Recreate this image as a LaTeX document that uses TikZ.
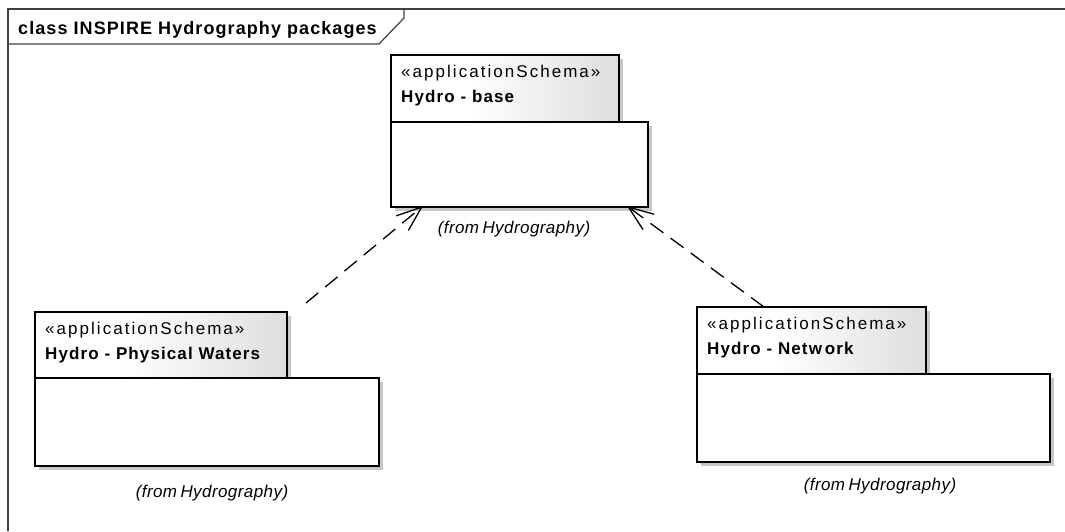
\documentclass[tikz,border=0pt]{standalone}
\usepackage{fontspec}
\setmainfont{Liberation Sans}
% EA-style wide tracking for the diagram texts
\newfontfamily\stereofont[LetterSpace=12]{Liberation Sans}
\newfontfamily\namefont[LetterSpace=6.5]{Liberation Sans}
\newfontfamily\titlefont[LetterSpace=6]{Liberation Sans}
\newfontfamily\fromfont[LetterSpace=2.5]{Liberation Sans}
\usetikzlibrary{arrows.meta,calc}

% package tab: white on the left, fading to light grey on the right
\pgfdeclarehorizontalshading{tabshade}{100bp}{%
  color(0bp)=(white); color(25bp)=(white); color(42bp)=(white);
  color(75bp)=(black!13); color(100bp)=(black!13)}

\tikzset{
  pkgtab/.style={draw=black, line width=1.4pt, shading=tabshade,
    anchor=north west, inner sep=0pt, outer sep=0pt},
  pkgbody/.style={draw=black, line width=1.4pt, fill=white,
    anchor=north west, inner sep=0pt, outer sep=0pt},
  pkgshadow/.style={fill=black!22},
  stereo/.style={anchor=base west, inner sep=0pt,
    font=\stereofont\fontsize{17pt}{19pt}\selectfont},
  pkgname/.style={anchor=base west, inner sep=0pt,
    font=\namefont\bfseries\fontsize{17pt}{19pt}\selectfont},
  fromlabel/.style={anchor=base, inner sep=0pt,
    font=\fromfont\itshape\fontsize{17pt}{19pt}\selectfont},
  frameline/.style={draw=black!75, line width=1.2pt},
  dependency/.style={draw=black, line width=1.3pt,
    dash pattern=on 16pt off 9pt,
    -{Straight Barb[length=25pt,width=19pt,line width=1.3pt]}},
}

% #1 name, #2 x, #3 y (top-left of tab), #4 tab width, #5 tab height,
% #6 body width, #7 body height, #8 package name
\newcommand\umlpkg[8]{%
  \fill[pkgshadow] (#2+4,#3+4) rectangle ++(#4,#5);
  \fill[pkgshadow] (#2+4,#3+#5+4) rectangle ++(#6,#7);
  \node[pkgbody, minimum width=#6pt, minimum height=#7pt] (#1-body) at (#2,#3+#5) {};
  \node[pkgtab, minimum width=#4pt, minimum height=#5pt] (#1-tab) at (#2,#3) {};
  \node[stereo] (#1-stereo) at (#2+10,#3+22) {«applicationSchema»};
  \node[pkgname] (#1-name) at (#2+10,#3+47) {#8};
}

\begin{document}
\begin{tikzpicture}[x=1pt, y=-1pt]
  \path[use as bounding box] (0,0) rectangle (1065,531);

  % diagram frame with its name tab
  \draw[frameline] (8,531) -- (8,9) -- (1065,9);
  \draw[frameline] (8,44) -- (379,44) -- (404,18) -- (404,9);
  \node[anchor=base west, inner sep=0pt,
    font=\titlefont\bfseries\fontsize{18pt}{20pt}\selectfont]
    (frame-title) at (18,34) {class INSPIRE Hydrography packages};

  % packages
  \umlpkg{base}{391}{55}{228}{67}{257}{85}{Hydro - base}
  \umlpkg{phys}{35}{312}{252}{66}{344}{88}{Hydro - Physical Waters}
  \umlpkg{net}{697}{307}{229}{67}{353}{88}{Hydro - Netw\kern3pt ork}

  \node[fromlabel] (base-from) at (514,233) {(from\hspace{0.2em}Hydrography)};
  \node[fromlabel] (phys-from) at (212,497) {(from\hspace{0.2em}Hydrography)};
  \node[fromlabel] (net-from)  at (880,490) {(from\hspace{0.2em}Hydrography)};

  % dependency ends
  \coordinate (phys-link) at (306,303);
  \coordinate (net-link) at ($(net-tab.north west)+(67,0)$);
  \coordinate (base-in-left) at ($(base-body.south west)+(32,-1)$);
  \coordinate (base-in-right) at ($(base-body.south west)+(236,-1)$);

  \draw[dependency] (phys-link) -- (base-in-left);
  \draw[dependency] (net-link) -- (base-in-right);
\end{tikzpicture}
\end{document}
